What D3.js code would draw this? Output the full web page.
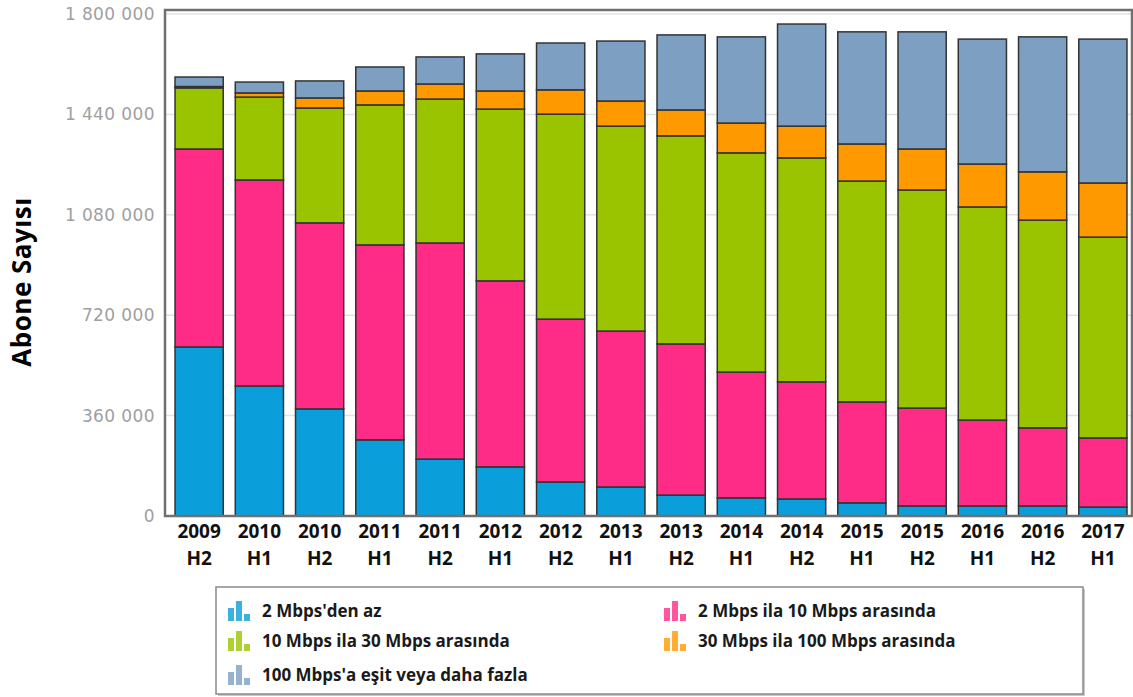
<!DOCTYPE html>
<html>
<head>
<meta charset="utf-8">
<script src="https://cdn.jsdelivr.net/npm/d3@7"></script>
<style>
  body { margin: 0; background: #fff; }
  svg { display: block; }
</style>
</head>
<body>
<svg id="chart" width="1133" height="697"></svg>
<script>
// periods, two-line labels (year / half)
var years = ["2009","2010","2010","2011","2011","2012","2012","2013","2013","2014","2014","2015","2015","2016","2016","2017"];
var halves = ["H2","H1","H2","H1","H2","H1","H2","H1","H2","H1","H2","H1","H2","H1","H2","H1"];

// subscribers per speed class
var below2 = [606000,466000,384000,273000,204000,176000,122000,104000,75000,65000,61000,47000,36000,36000,36000,32000];
var from2to10 = [710000,739000,667000,699000,775000,667000,584000,559000,542000,451000,420000,362000,351000,308000,280000,248000];
var from10to30 = [219000,297000,412000,502000,516000,616000,735000,735000,746000,786000,803000,792000,782000,764000,745000,720000];
var from30to100 = [5000,15000,36000,50000,54000,65000,87000,90000,93000,107000,114000,133000,147000,154000,173000,194000];
var over100 = [34000,39000,61000,86000,97000,133000,168000,215000,269000,309000,366000,402000,420000,448000,484000,516000];

var yTicks = [0, 360000, 720000, 1080000, 1440000, 1800000];

var seriesNames = ["2 Mbps'den az", "2 Mbps ila 10 Mbps arasında", "10 Mbps ila 30 Mbps arasında",
  "30 Mbps ila 100 Mbps arasında", "100 Mbps'a eşit veya daha fazla"];
var colors = ["#0a9edb", "#fe2c87", "#9ac400", "#ff9900", "#7c9fc2"];

var keys = ["a","b","c","d","e"];
var rows = years.map(function(y, i){
  return {id: i, year: y, half: halves[i], a: below2[i], b: from2to10[i], c: from10to30[i], d: from30to100[i], e: over100[i]};
});

var svg = d3.select("#chart");
var plot = {left: 165, right: 1132, top: 10, bottom: 516};

var x = d3.scaleBand().domain(rows.map(function(d){ return d.id; }))
  .range([169, 1133]).paddingInner(0.2).paddingOuter(0.1);
var y = d3.scaleLinear().domain([0, 1800000]).range([516, 14]);

var fmt = function(v){ return d3.format(",")(v).replace(/,/g, " "); };

// gridlines
svg.append("g").selectAll("line").data(yTicks).enter().append("line")
  .attr("x1", plot.left).attr("x2", plot.right)
  .attr("y1", function(d){ return y(d); }).attr("y2", function(d){ return y(d); })
  .attr("stroke", "#e2e2e2").attr("stroke-width", 1.5);

// y axis labels
var yAxis = svg.append("g").attr("transform", "translate(" + plot.left + ",0)")
  .call(d3.axisLeft(y).tickValues(yTicks).tickFormat(fmt).tickSize(0).tickPadding(10));
yAxis.select(".domain").remove();
yAxis.selectAll("text").attr("fill", "#a0a0a0")
  .style("font-family", "DejaVu Sans").style("font-size", "17px").style("letter-spacing", "0.4px");

// stacked bars
var stack = d3.stack().keys(keys)(rows);
svg.append("g").selectAll("g").data(stack).enter().append("g")
  .attr("fill", function(d, i){ return colors[i]; })
  .selectAll("rect").data(function(d){ return d; }).enter().append("rect")
  .attr("x", function(d){ return x(d.data.id); })
  .attr("width", x.bandwidth())
  .attr("y", function(d){ return y(d[1]); })
  .attr("height", function(d){ return y(d[0]) - y(d[1]); })
  .attr("stroke", "#333").attr("stroke-width", 1.5);

// frame
svg.append("rect").attr("x", plot.left).attr("y", plot.top)
  .attr("width", plot.right - plot.left).attr("height", plot.bottom - plot.top)
  .attr("fill", "none").attr("stroke", "#707070").attr("stroke-width", 2.5);

// x labels
var xl = svg.append("g").selectAll("text").data(rows).enter().append("text")
  .attr("x", function(d){ return x(d.id) + x.bandwidth() / 2; })
  .attr("text-anchor", "middle")
  .style("font-family", "Open Sans").style("font-weight", "700").style("font-size", "19px")
  .attr("fill", "#111");
xl.append("tspan").attr("x", function(d){ return x(d.id) + x.bandwidth() / 2; }).attr("y", 538).text(function(d){ return d.year; });
xl.append("tspan").attr("x", function(d){ return x(d.id) + x.bandwidth() / 2; }).attr("y", 565).text(function(d){ return d.half; });

// y title
svg.append("text").attr("transform", "translate(31,282) rotate(-90)")
  .attr("text-anchor", "middle")
  .style("font-family", "Open Sans").style("font-weight", "700").style("font-size", "26px")
  .style("letter-spacing", "0.5px")
  .attr("fill", "#000").text("Abone Sayısı");

// legend
var legend = svg.append("g");
legend.append("rect").attr("x", 218).attr("y", 589).attr("width", 867).attr("height", 107)
  .attr("fill", "#c8c8c8");
legend.append("rect").attr("x", 216).attr("y", 587).attr("width", 867).attr("height", 107)
  .attr("fill", "#fff").attr("stroke", "#8a8a8a").attr("stroke-width", 1.5);

var legendPos = [[228, 611], [664, 611], [228, 641], [664, 641], [228, 675]];
var item = legend.selectAll("g.item").data(seriesNames).enter().append("g")
  .attr("transform", function(d, i){ return "translate(" + legendPos[i][0] + "," + legendPos[i][1] + ")"; });
// small bar-chart glyph
var glyph = [[0, -3, 6, 13], [8, -10, 6, 20], [16, 3, 6, 7]];
item.each(function(d, i){
  var g = d3.select(this);
  glyph.forEach(function(b){
    g.append("rect").attr("x", b[0]).attr("y", b[1]).attr("width", b[2]).attr("height", b[3])
      .attr("fill", colors[i]).attr("opacity", 0.8);
  });
});
item.append("text").attr("x", 34).attr("y", 6)
  .style("font-family", "Open Sans").style("font-weight", "700").style("font-size", "17px")
  .attr("fill", "#1a1a1a").text(function(d){ return d; });
</script>
</body>
</html>
